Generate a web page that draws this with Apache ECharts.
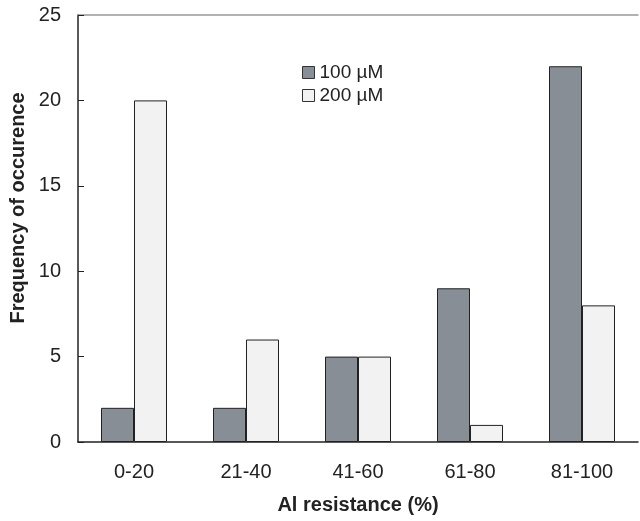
<!DOCTYPE html>
<html><head><meta charset="utf-8">
<script src="https://cdn.jsdelivr.net/npm/echarts@6/dist/echarts.min.js"></script>
<style>html,body{margin:0;padding:0;background:#fff}#c{width:640px;height:521px}</style>
</head><body><div id="c"></div>
<script>
const categories = ['0-20', '21-40', '41-60', '61-80', '81-100'];
const series100 = [2, 2, 5, 9, 22];
const series200 = [20, 6, 5, 1, 8];
const seriesNames = ['100 \u00b5M', '200 \u00b5M'];
const yTicks = [0, 5, 10, 15, 20, 25];
const xTitle = 'Al resistance (%)';
const yTitle = 'Frequency of occurence';

const font = 'Liberation Sans, Arial, sans-serif';
const chart = echarts.init(document.getElementById('c'), null, {renderer: 'canvas'});
chart.setOption({
  animation: false,
  backgroundColor: '#fff',
  grid: {left: 78, right: 2, top: 15, bottom: 79},
  legend: {
    orient: 'vertical', left: 297, top: 58, itemWidth: 12, itemHeight: 12, itemGap: 4,
    icon: 'rect', itemStyle: {borderColor: '#333', borderWidth: 1},
    textStyle: {fontFamily: font, fontSize: 19, color: '#222'},
    data: seriesNames
  },
  graphic: [{
    type: 'text', x: 18, y: 208, rotation: Math.PI / 2,
    style: {text: yTitle, fontFamily: font, fontSize: 20, fontWeight: 'bold', fill: '#222',
      textAlign: 'center', textVerticalAlign: 'middle'}
  }],
  xAxis: [{
    type: 'category', data: categories, position: 'bottom',
    axisLine: {lineStyle: {color: '#222', width: 1.5}},
    axisTick: {inside: true, length: 6, lineStyle: {color: '#222'}},
    axisLabel: {fontFamily: font, fontSize: 20, color: '#222', margin: 20},
    name: xTitle, nameLocation: 'middle', nameGap: 53,
    nameTextStyle: {fontFamily: font, fontSize: 20, fontWeight: 'bold', color: '#222'}
  }, {
    type: 'category', data: categories, position: 'top',
    axisLine: {lineStyle: {color: '#999', width: 1.5}},
    axisTick: {show: false}, axisLabel: {show: false}
  }],
  yAxis: {
    type: 'value', min: yTicks[0], max: yTicks[yTicks.length - 1], interval: 5,
    splitLine: {show: false},
    axisLine: {show: true, lineStyle: {color: '#222', width: 1.5}},
    axisTick: {show: true, inside: true, length: 6, lineStyle: {color: '#222'}},
    axisLabel: {fontFamily: font, fontSize: 20, color: '#222', margin: 17}
  },
  series: [{
    name: seriesNames[0], type: 'bar', data: series100, barWidth: 33, barGap: '0%',
    itemStyle: {color: '#878e96', borderColor: '#222', borderWidth: 1}
  }, {
    name: seriesNames[1], type: 'bar', data: series200, barWidth: 33,
    itemStyle: {color: '#f2f2f2', borderColor: '#222', borderWidth: 1}
  }]
});
</script></body></html>
